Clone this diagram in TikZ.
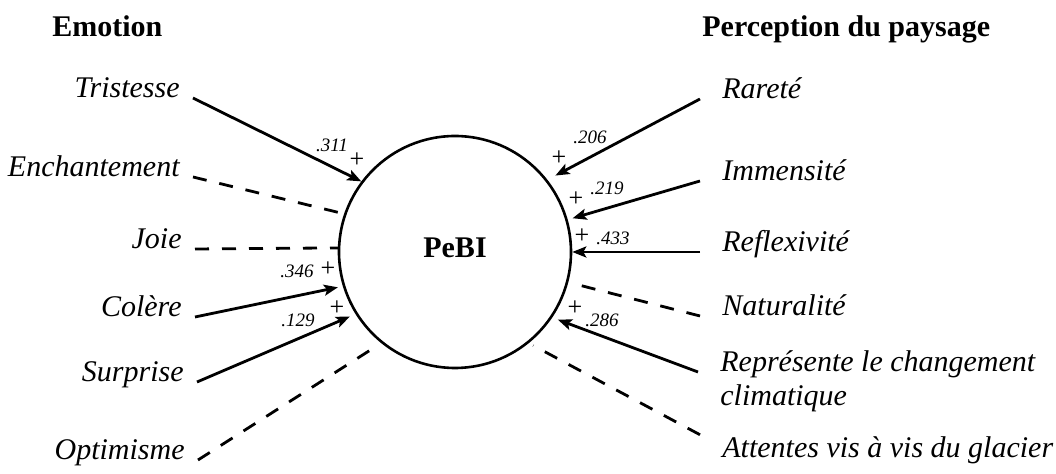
\documentclass[tikz,border=0pt]{standalone}
\usepackage{fontspec}
\setmainfont{Liberation Serif}
\usetikzlibrary{arrows.meta}
\begin{document}
\begin{tikzpicture}[
  x=0.5pt,y=-0.5pt,
  head/.style={font=\fontsize{15}{17}\selectfont\bfseries,inner sep=0pt,anchor=base west},
  lleft/.style={font=\fontsize{15}{17}\selectfont\itshape,inner xsep=6.5pt,inner ysep=1pt,anchor=base east},
  lright/.style={font=\fontsize{15}{17}\selectfont\itshape,inner xsep=11pt,inner ysep=1pt,anchor=base west},
  coef/.style={font=\fontsize{9.5}{11}\selectfont\itshape,inner sep=0pt},
  sign/.style={font=\fontsize{13}{14}\selectfont,inner sep=0pt},
  latent/.style={circle,draw,line width=1.3pt,minimum size=116pt,inner sep=0pt,font=\fontsize{15}{17}\selectfont\bfseries},
  arrow/.style={-{Stealth[length=7pt,width=5.5pt,inset=1.5pt]},line width=1.4pt},
  nul/.style={line width=1.4pt,dash pattern=on 7pt off 6.5pt}
]
\useasboundingbox (0,0) rectangle (1056,474);
\node[latent] (pebi) at (455,252) {\raisebox{4pt}{PeBI}};
\node[head] (emo) at (52,37) {Emotion};
\node[head] (perc) at (702,37) {Perception du paysage};
\node[lleft] (trist) at (193,98) {Tristesse};
\node[lleft] (ench) at (193,177) {Enchantement};
\node[lleft] (joie) at (195,249) {Joie};
\node[lleft] (colere) at (195,317) {Colère};
\node[lleft] (surpr) at (197,382) {Surprise};
\node[lleft] (optim) at (198,460) {Optimisme};
\node[lright] (rarete) at (700,99) {Rareté};
\node[lright] (immens) at (700,181) {Immensité};
\node[lright] (reflex) at (700,252) {Reflexivité};
\node[lright] (natur) at (700,316) {Naturalité};
\node[lright] (repres) at (698,372) {\begin{tabular}[t]{@{}l@{}}Représente le changement\\climatique\end{tabular}};
\node[lright] (attent) at (700,458) {Attentes vis à vis du glacier};
\draw[arrow] (trist.base east) -- (pebi.143);
\draw[nul,shorten >=2pt] (ench.base east) -- (pebi.161);
\draw[nul] (joie.base east) -- (pebi.178);
\draw[arrow,shorten >=2.5pt] (colere.base east) -- (pebi.197);
\draw[arrow,shorten >=3pt] (surpr.base east) -- (pebi.212);
\draw[nul,shorten >=2.5pt] (optim.base east) -- (pebi.231);
\draw[arrow,shorten >=4.5pt] (rarete.base west) -- (pebi.38);
\draw[arrow,shorten >=2.5pt] (immens.base west) -- (pebi.16);
\draw[arrow] (reflex.base west) -- (pebi.east);
\draw[nul,shorten >=2pt] (natur.base west) -- (pebi.345);
\draw[arrow,shorten >=3pt] (repres.base west) -- (pebi.326);
\draw[nul,shorten >=2.5pt] (attent.north west) -- (pebi.309);
\node[coef] (c311) at (332,145) {.311};
\node[sign] (s311) at (357,160) {+};
\node[coef] (c346) at (297,271) {.346};
\node[sign] (s346) at (328,269) {+};
\node[coef] (c129) at (298,320) {.129};
\node[sign] (s129) at (337,308) {+};
\node[coef] (c206) at (590,137) {.206};
\node[sign] (s206) at (559,158) {+};
\node[coef] (c219) at (607,188) {.219};
\node[sign] (s219) at (576,199) {+};
\node[coef] (c433) at (613,238) {.433};
\node[sign] (s433) at (582,236) {+};
\node[coef] (c286) at (602,320) {.286};
\node[sign] (s286) at (575,308) {+};
\end{tikzpicture}
\end{document}
